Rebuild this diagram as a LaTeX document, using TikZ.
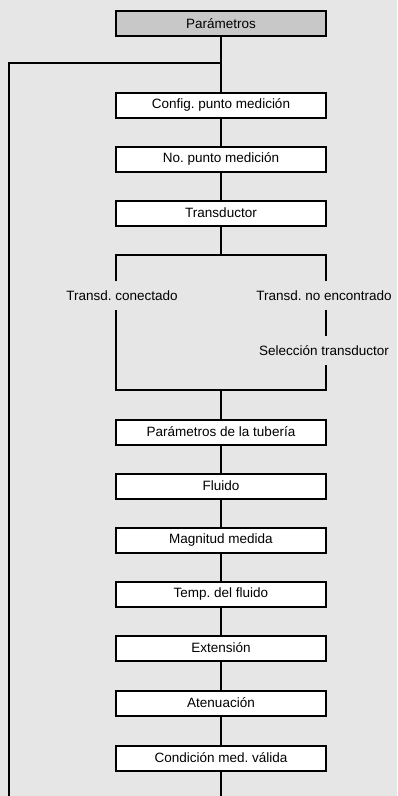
\documentclass[tikz,border=0pt]{standalone}
\usepackage{fontspec}
\setmainfont{Liberation Sans}
\frenchspacing
\definecolor{bg}{RGB}{230,230,230}
\definecolor{hdrfill}{RGB}{200,200,200}
\begin{document}
\begin{tikzpicture}[x=1pt,y=-1pt,
  line width=2pt,
  every node/.style={font=\fontsize{13.5}{15}\selectfont},
  stepbox/.style={draw, fill=white, minimum width=210pt, minimum height=25pt, inner sep=0pt},
  hdrbox/.style={stepbox, fill=hdrfill},
  lbl/.style={inner sep=0pt, minimum height=27pt}
]
\fill[bg] (0,0) rectangle (397,796);
\useasboundingbox (0,0) rectangle (397,796);
\node[hdrbox] (p) at (221,23.5) {Parámetros};
\node[stepbox] (b1) at (221,105) {Config. punto medición};
\node[stepbox] (b2) at (221,159) {No. punto medición};
\node[stepbox] (b3) at (221,213) {Transductor};
\coordinate (loop) at (221,63);
\coordinate (lt) at (9,63);
\coordinate (lb) at (9,796);
\coordinate (bt) at (221,255);
\coordinate (btl) at (116,255);
\coordinate (btr) at (326,255);
\coordinate (bbl) at (116,390);
\coordinate (bbr) at (326,390);
\coordinate (bb) at (221,390);
\node[lbl] (c1) at (122,295.5) {Transd. conectado};
\node[lbl] (c2) at (324,295.5) {Transd. no encontrado};
\node[lbl] (c3) at (324,350.5) {Selección transductor};
\node[stepbox] (b4) at (221,432) {Parámetros de la tubería};
\node[stepbox] (b5) at (221,486) {Fluido};
\node[stepbox] (b6) at (221,540) {Magnitud medida};
\node[stepbox] (b7) at (221,594) {Temp. del fluido};
\node[stepbox] (b8) at (221,648) {Extensión};
\node[stepbox] (b9) at (221,703) {Atenuación};
\node[stepbox] (b10) at (221,758) {Condición med. válida};
\coordinate (end) at (221,796);
\draw (p) -- (b1);
\draw (lb) -- (lt) -- (loop);
\draw (b1) -- (b2);
\draw (b2) -- (b3);
\draw (b3) -- (bt);
\draw (btl |- c1.north) -- (btl) -- (btr) -- (btr |- c2.north);
\draw (btl |- c1.south) -- (bbl) -- (bbr) -- (bbr |- c3.south);
\draw (btr |- c2.south) -- (btr |- c3.north);
\draw (bb) -- (b4);
\draw (b4) -- (b5);
\draw (b5) -- (b6);
\draw (b6) -- (b7);
\draw (b7) -- (b8);
\draw (b8) -- (b9);
\draw (b9) -- (b10);
\draw (b10) -- (end);
\end{tikzpicture}
\end{document}
